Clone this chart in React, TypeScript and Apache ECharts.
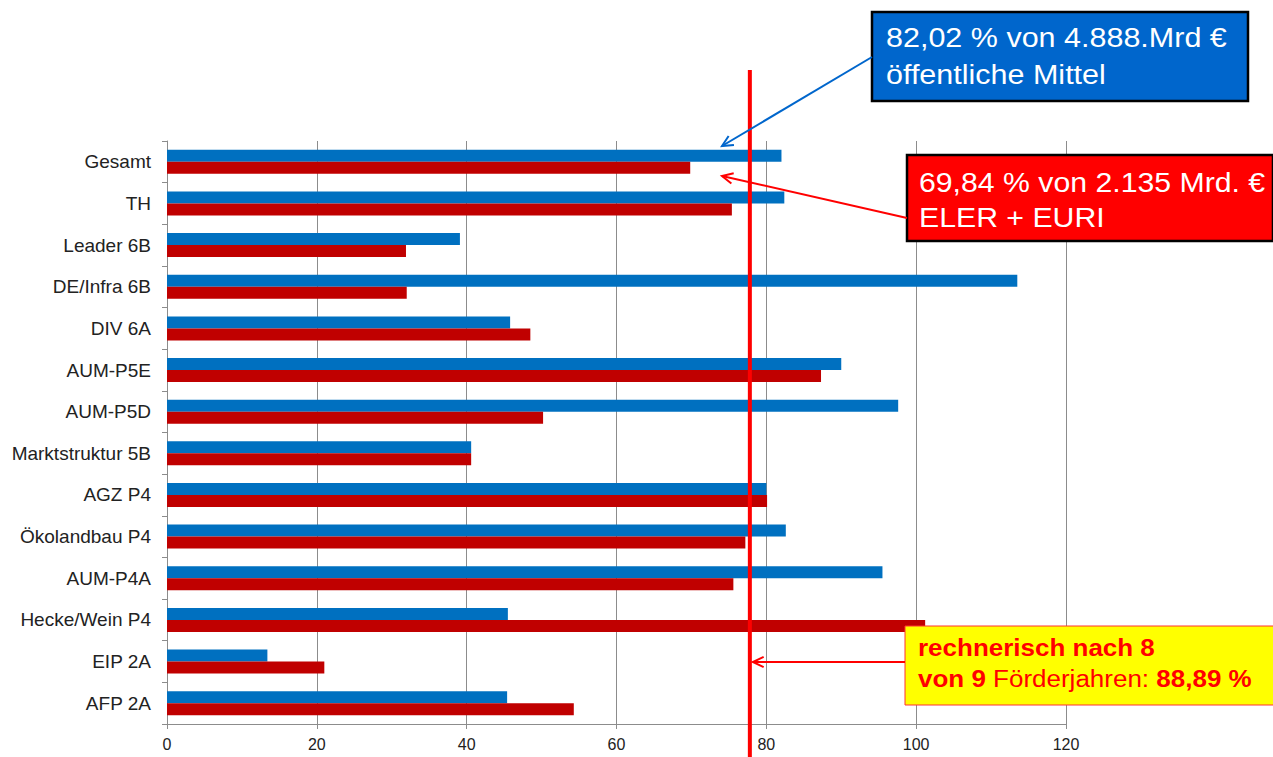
import React, { useEffect, useRef } from "react";
import * as echarts from "echarts";

const categories = [
  "Gesamt",
  "TH",
  "Leader 6B",
  "DE/Infra 6B",
  "DIV 6A",
  "AUM-P5E",
  "AUM-P5D",
  "Marktstruktur 5B",
  "AGZ P4",
  "Ökolandbau P4",
  "AUM-P4A",
  "Hecke/Wein P4",
  "EIP 2A",
  "AFP 2A",
];
const blueValues = [82.02, 82.4, 39.1, 113.5, 45.8, 90.0, 97.6, 40.6, 80.0, 82.6, 95.5, 45.5, 13.4, 45.4];
const redValues = [69.84, 75.4, 31.9, 32.0, 48.5, 87.3, 50.2, 40.6, 80.1, 77.2, 75.6, 101.2, 21.0, 54.3];
const xTicks = [0, 20, 40, 60, 80, 100, 120];
const redLineValue = 77.8;

const FONT = "Liberation Sans, Arial, sans-serif";

function arrowHead(x1: number, y1: number, x2: number, y2: number, size: number) {
  const ang = Math.atan2(y2 - y1, x2 - x1);
  const a1 = ang + Math.PI - 0.45;
  const a2 = ang + Math.PI + 0.45;
  return [
    [x2 + size * Math.cos(a1), y2 + size * Math.sin(a1)],
    [x2, y2],
    [x2 + size * Math.cos(a2), y2 + size * Math.sin(a2)],
  ];
}

function arrow(x1: number, y1: number, x2: number, y2: number, color: string, width: number) {
  return [
    { type: "line", shape: { x1, y1, x2, y2 }, style: { stroke: color, lineWidth: width }, z: 100 },
    {
      type: "polyline",
      shape: { points: arrowHead(x1, y1, x2, y2, 12) },
      style: { stroke: color, lineWidth: width, fill: null },
      z: 100,
    },
  ];
}

function label(x: number, y: number, text: string, font: string, fill: string, scaleX: number, rich?: any) {
  return {
    type: "text",
    x,
    y,
    scaleX,
    style: { text, font, fill, verticalAlign: "middle", align: "left", rich },
    z: 101,
  };
}

export default function App() {
  const ref = useRef<HTMLDivElement>(null);
  useEffect(() => {
    document.body.style.margin = "0";
    if (!ref.current) return;
    const chart = echarts.init(ref.current, undefined, { renderer: "svg" });
    chart.setOption({
      animation: false,
      backgroundColor: "#ffffff",
      grid: { left: 167, right: 207, top: 141, bottom: 33, containLabel: false },
      xAxis: {
        type: "value",
        min: xTicks[0],
        max: xTicks[xTicks.length - 1],
        interval: 20,
        axisLine: { show: true, lineStyle: { color: "#8c8c8c", width: 1 } },
        axisTick: { show: true, length: 5, lineStyle: { color: "#8c8c8c" } },
        axisLabel: { color: "#222", fontFamily: FONT, fontSize: 16, margin: 12 },
        splitLine: { show: true, lineStyle: { color: "#8c8c8c", width: 1 } },
      },
      yAxis: {
        type: "category",
        data: categories,
        inverse: true,
        axisLine: { show: true, lineStyle: { color: "#8c8c8c", width: 1 } },
        axisTick: { show: true, length: 5, lineStyle: { color: "#8c8c8c" } },
        axisLabel: { color: "#222", fontFamily: FONT, fontSize: 19, margin: 16 },
      },
      series: [
        {
          type: "bar",
          data: blueValues,
          itemStyle: { color: "#0070C0" },
          barWidth: 12,
          barGap: "0%",
        },
        {
          type: "bar",
          data: redValues,
          itemStyle: { color: "#C00000" },
          barWidth: 12,
          barGap: "0%",
        },
      ],
    });
    const lx = chart.convertToPixel({ xAxisIndex: 0 }, redLineValue) as number;
    chart.setOption({
      graphic: [
        {
          type: "rect",
          shape: { x: lx - 2, y: 70, width: 4, height: 700 },
          style: { fill: "#ff0000" },
          z: 90,
        },
        // blue box
        {
          type: "rect",
          shape: { x: 872, y: 12, width: 376, height: 89 },
          style: { fill: "#0066CC", stroke: "#000", lineWidth: 2.5 },
          z: 100,
        },
        label(886, 38, "82,02 % von 4.888.Mrd €", `27px ${FONT}`, "#fff", 1.13),
        label(886, 75, "öffentliche Mittel", `27px ${FONT}`, "#fff", 1.13),
        ...arrow(872, 57, 722, 146, "#0066CC", 2),
        // red box
        {
          type: "rect",
          shape: { x: 907, y: 155, width: 366, height: 86 },
          style: { fill: "#FF0000", stroke: "#000", lineWidth: 2.5 },
          z: 100,
        },
        label(919, 183, "69,84 % von 2.135 Mrd. €", `27px ${FONT}`, "#fff", 1.12),
        label(919, 218, "ELER + EURI", `27px ${FONT}`, "#fff", 1.12),
        ...arrow(907, 218, 722, 176, "#FF0000", 2),
        // yellow box
        {
          type: "rect",
          shape: { x: 905, y: 626, width: 370, height: 79 },
          style: { fill: "#FFFF00", stroke: "#FF3333", lineWidth: 1 },
          z: 100,
        },
        label(918, 648, "rechnerisch nach 8", `bold 23px ${FONT}`, "#FF0000", 1.13),
        label(918, 679, "{b|von 9} {n|Förderjahren:} {b|88,89 %}", `23px ${FONT}`, "#FF0000", 1.13, {
          b: { fill: "#FF0000", font: `bold 23px ${FONT}` },
          n: { fill: "#FF0000", font: `23px ${FONT}` },
        }),
        ...arrow(905, 662, lx + 3, 662, "#FF0000", 2),
      ],
    });
    return () => chart.dispose();
  }, []);
  return <div ref={ref} style={{ width: 1273, height: 757 }} />;
}
